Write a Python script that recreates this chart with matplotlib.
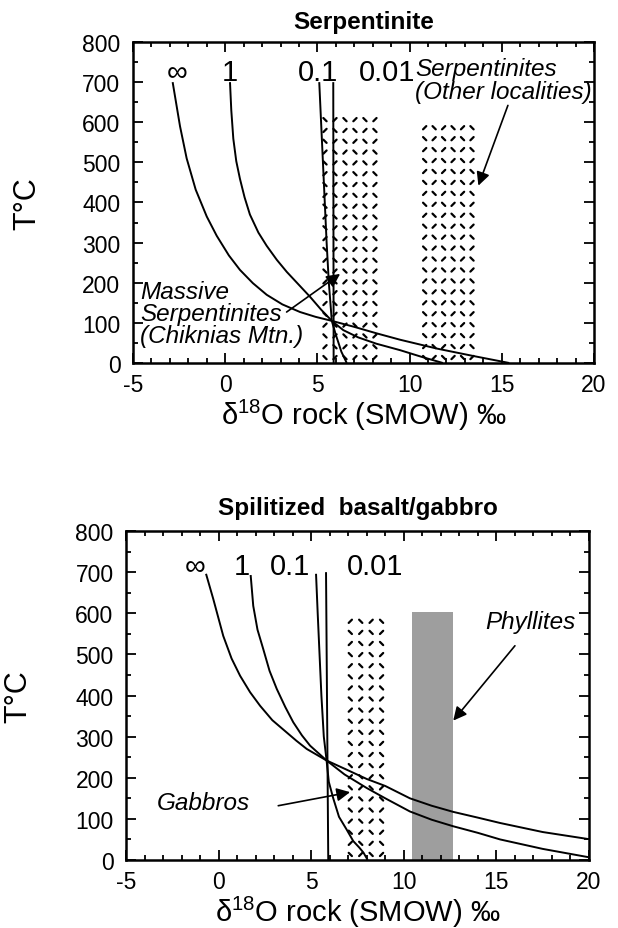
import matplotlib
matplotlib.use("Agg")
import matplotlib.pyplot as plt
import numpy as np
from matplotlib.collections import LineCollection

plt.rcParams['font.family'] = ['Liberation Sans', 'DejaVu Sans']
plt.rcParams['mathtext.fontset'] = 'custom'
plt.rcParams['mathtext.rm'] = 'Liberation Sans'
plt.rcParams['mathtext.it'] = 'Liberation Sans:italic'
plt.rcParams['axes.unicode_minus'] = False

# ---- Serpentinite panel: water/rock curves (d18O rock, T degC) ----
serp_inf_x = [-2.85, -2.45, -2.09, -1.6, -1.0, -0.46, 0.2, 0.8, 1.5, 2.25, 3.1,
              4.06, 4.9, 5.78, 7.0, 8.2, 9.48, 11.47, 13.5, 15.4]
serp_inf_t = [700, 590, 510, 432, 365, 317, 268, 232, 199, 170, 146,
              127, 115, 105, 90, 74, 58, 36, 17, 0]
serp_1_x = [0.26, 0.33, 0.44, 0.6, 0.8, 1.05, 1.34, 1.8, 2.25, 2.8, 3.34, 3.95,
            4.6, 5.2, 5.78, 6.4, 7.2, 8.2, 9.48, 10.6, 11.8]
serp_1_t = [700, 630, 559, 503, 459, 413, 370, 325, 292, 257, 227, 197,
            165, 133, 105, 82, 64, 48, 32, 16, 0]
serp_01_x = [5.10, 5.2, 5.3, 5.4, 5.5, 5.62, 5.78, 6.0, 6.13, 6.3, 6.59]
serp_01_t = [700, 600, 500, 400, 300, 200, 105, 70, 52, 28, 0]
serp_001_x = [5.86, 5.88]
serp_001_t = [700, 0]
# hatched ranges: (x0, x1, top T)
serp_massive = (5.14, 8.39, 620)
serp_other = (10.56, 13.64, 600)

# ---- Spilitized basalt/gabbro panel ----
spil_inf_x = [-0.68, -0.29, 0.25, 0.7, 1.16, 1.7, 2.24, 2.9, 3.68, 4.2, 4.76, 5.83,
              6.8, 8.0, 9.0, 10.33, 11.5, 12.67, 14.0, 15.2, 17.5, 19.95]
spil_inf_t = [696, 635, 545, 490, 448, 408, 375, 340, 310, 290, 270, 242,
              222, 197, 180, 150, 132, 117, 103, 90, 68, 51]
spil_1_x = [1.73, 1.87, 2.1, 2.41, 2.75, 3.14, 3.6, 4.03, 4.5, 4.94, 5.83,
            6.8, 8.0, 9.0, 10.33, 11.5, 12.67, 14.0, 15.2, 17.5, 19.95]
spil_1_t = [693, 618, 560, 513, 460, 416, 372, 335, 303, 278, 242,
            208, 175, 150, 118, 98, 82, 66, 50, 27, 7]
spil_01_x = [5.26, 5.35, 5.45, 5.55, 5.68, 5.83, 5.95, 6.19, 6.5, 6.9, 7.27, 7.6, 7.82, 8.05]
spil_01_t = [696, 600, 500, 400, 300, 242, 190, 150, 105, 75, 46, 30, 18, 0]
spil_001_x = [5.80, 5.92]
spil_001_t = [700, 0]
spil_gabbro = (6.83, 9.08, 594)
spil_phyllite = (10.42, 12.67, 603)

wr_labels = ['\u221e', '1', '0.1', '0.01']

fig = plt.figure(figsize=(6.18, 9.29), dpi=100)
ax1 = fig.add_axes([0.2152, 0.6082, 0.746, 0.3455])
ax2 = fig.add_axes([0.2039, 0.0732, 0.7492, 0.3541])


def dash_fill(ax, box, step_x=10.0, step_y=11.0, length=4.6):
    # dashed chevron fill, sized in pixels
    x0, x1, top = box
    pos = ax.get_position()
    w_px = pos.width * fig.get_figwidth() * fig.dpi
    h_px = pos.height * fig.get_figheight() * fig.dpi
    ux = 25.0 / w_px
    ut = 800.0 / h_px
    nx = max(1, int(round((x1 - x0) / ux / step_x)))
    ny = max(1, int(round(top / ut / step_y)))
    sx = (x1 - x0) / nx
    st = top / ny
    h = length / 2 / np.sqrt(2)
    segs = []
    for i in range(nx):
        for j in range(ny):
            cx = x0 + (i + 0.5) * sx
            ct = (j + 0.5) * st
            s = 1 if (i + j) % 2 else -1
            segs.append([(cx - h * ux, ct - s * h * ut), (cx + h * ux, ct + s * h * ut)])
    ax.add_collection(LineCollection(segs, colors='black', linewidths=1.6, capstyle='round'))


def style_axes(ax, title, pad, ylab_x):
    ax.set_xlim(-5, 20)
    ax.set_ylim(0, 800)
    ax.set_xticks(np.arange(-5, 21, 5))
    ax.set_xticks(np.arange(-5, 21, 1), minor=True)
    ax.set_yticks(np.arange(0, 801, 100))
    ax.set_yticks(np.arange(0, 801, 50), minor=True)
    ax.tick_params(which='both', direction='in', top=True, right=True, width=1.3)
    ax.tick_params(which='major', length=7, labelsize=16.5)
    ax.tick_params(which='minor', length=3.5)
    ax.tick_params(axis='y', pad=9)
    ax.tick_params(axis='x', pad=7)
    for sp in ax.spines.values():
        sp.set_linewidth(1.8)
    ax.set_title(title, fontsize=17.5, fontweight='bold', pad=pad)
    ax.set_xlabel('δ$^{18}$O rock (SMOW) ‰', fontsize=21, labelpad=1)
    ax.set_ylabel('T°C', fontsize=22)
    ax.yaxis.set_label_coords(ylab_x, 0.5)


arrow = dict(arrowstyle='-|>', mutation_scale=20, lw=1.2, color='black',
             shrinkA=0, shrinkB=0)
note = dict(fontsize=17.5, style='italic')

# top panel
for xs, ts in [(serp_inf_x, serp_inf_t), (serp_1_x, serp_1_t),
               (serp_01_x, serp_01_t), (serp_001_x, serp_001_t)]:
    ax1.plot(xs, ts, color='black', lw=1.4, solid_capstyle='butt', solid_joinstyle='round')
dash_fill(ax1, serp_massive)
dash_fill(ax1, serp_other)
for lab, lx in zip(wr_labels, [-2.63, 0.26, 5.05, 8.76]):
    ax1.text(lx, 725, lab, fontsize=21, ha='center', va='center')
ax1.text(10.3, 762, 'Serpentinites\n(Other localities)', ha='left', va='top',
         linespacing=1.0, **note)
ax1.annotate('', xy=(13.73, 442), xytext=(15.33, 642), arrowprops=arrow)
ax1.text(-4.62, 207, 'Massive\nSerpentinites\n(Chiknias Mtn.)', ha='left', va='top',
         linespacing=0.95, **note)
ax1.annotate('', xy=(6.23, 222), xytext=(3.33, 127), arrowprops=arrow)
style_axes(ax1, 'Serpentinite', 10, -0.197)

# bottom panel
for xs, ts in [(spil_inf_x, spil_inf_t), (spil_1_x, spil_1_t),
               (spil_01_x, spil_01_t), (spil_001_x, spil_001_t)]:
    ax2.plot(xs, ts, color='black', lw=1.4, solid_capstyle='butt', solid_joinstyle='round')
dash_fill(ax2, spil_gabbro)
g0, g1, gt = spil_phyllite
ax2.fill_between([g0, g1], 0, gt, color='0.62', lw=0)
for lab, lx in zip(wr_labels, [-1.27, 1.25, 3.86, 8.45]):
    ax2.text(lx, 715, lab, fontsize=21, ha='center', va='center')
ax2.text(14.38, 581, 'Phyllites', ha='left', va='center', **note)
ax2.annotate('', xy=(12.67, 339), xytext=(16.0, 521), arrowprops=arrow)
ax2.text(-3.34, 139, 'Gabbros', ha='left', va='center', **note)
ax2.annotate('', xy=(7.1, 165), xytext=(3.22, 132), arrowprops=arrow)
style_axes(ax2, 'Spilitized  basalt/gabbro', 12, -0.199)

fig.savefig('out.png', dpi=100)
